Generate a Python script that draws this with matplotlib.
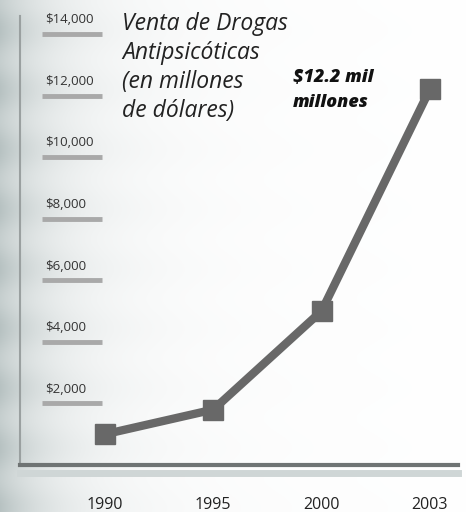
import numpy as np
import matplotlib.pyplot as plt

years = ['1990', '1995', '2000', '2003']
ventas = [1000, 1800, 5000, 12200]
yticks = [2000, 4000, 6000, 8000, 10000, 12000, 14000]
ytick_labels = ['$2,000', '$4,000', '$6,000', '$8,000', '$10,000', '$12,000', '$14,000']
title_lines = ['Venta de Drogas', 'Antipsicóticas', '(en millones', 'de dólares)']
note_lines = ['$12.2 mil', 'millones']

plt.rcParams['font.family'] = ['Open Sans', 'DejaVu Sans']

fig = plt.figure(figsize=(4.66, 5.12), dpi=100)

# faded background on the left
W, H = 466, 512
xx = np.arange(W)[None, :]
yy = np.arange(H)[:, None]
fade = np.exp(-xx / 50.0) * 0.22 + np.exp(-xx / 150.0) * 0.06
fade = fade * (0.8 + 0.2 * np.sin(yy / 19.0) ** 2)
fade = np.broadcast_to(fade, (H, W))
bg = np.ones((H, W, 3))
bg[..., 0] -= fade * 1.0
bg[..., 1] -= fade * 0.85
bg[..., 2] -= fade * 0.85
bgax = fig.add_axes([0, 0, 1, 1])
bgax.imshow(bg, aspect='auto', extent=[0, 1, 0, 1])
bgax.axis('off')

ax = fig.add_axes([20 / 466, 47 / 512, 438 / 466, 465 / 512])
ax.patch.set_alpha(0)
x = np.arange(len(years))
ax.plot(x, ventas, color='#686868', lw=6, marker='s', ms=14,
        solid_capstyle='butt', zorder=3)

ax.set_xlim(-0.785, 3.26)
ax.set_ylim(0, 15104)

for s in ['top', 'right']:
    ax.spines[s].set_visible(False)
ax.spines['left'].set_color('#9aa0a0')
ax.spines['left'].set_linewidth(1.5)
ax.spines['left'].set_bounds(0, 14600)
ax.spines['bottom'].set_color('#6f7474')
ax.spines['bottom'].set_linewidth(3)
# soft shadow under the axis line
ax.axhline(-250, color='#cfd6d6', lw=5, clip_on=False, zorder=1)

ax.set_xticks(x)
ax.set_xticklabels(years, fontsize=11.5, color='#222222')
ax.tick_params(axis='x', length=0, pad=23)
ax.set_yticks([])

# gray bars with labels above them
ax.hlines(yticks, 0.05, 0.187, transform=ax.get_yaxis_transform(),
          color='#a9a9a9', lw=3.5)
for v, lab in zip(yticks, ytick_labels):
    ax.text(0.057, v + 250, lab, transform=ax.get_yaxis_transform(),
            fontsize=9.5, color='#333333', va='bottom', ha='left')

# title block, one line at a time (baselines in pixels from top)
for i, line in enumerate(title_lines):
    fig.text(122 / 466, 1 - (30 + 29 * i) / 512, line,
             fontsize=16.5, style='italic', color='#222222',
             va='baseline', ha='left')

for i, line in enumerate(note_lines):
    fig.text(293 / 466, 1 - (82 + 25 * i) / 512, line,
             fontsize=13, style='italic', fontweight='heavy', color='#111111',
             va='baseline', ha='left')

fig.savefig('out.png', dpi=100)
